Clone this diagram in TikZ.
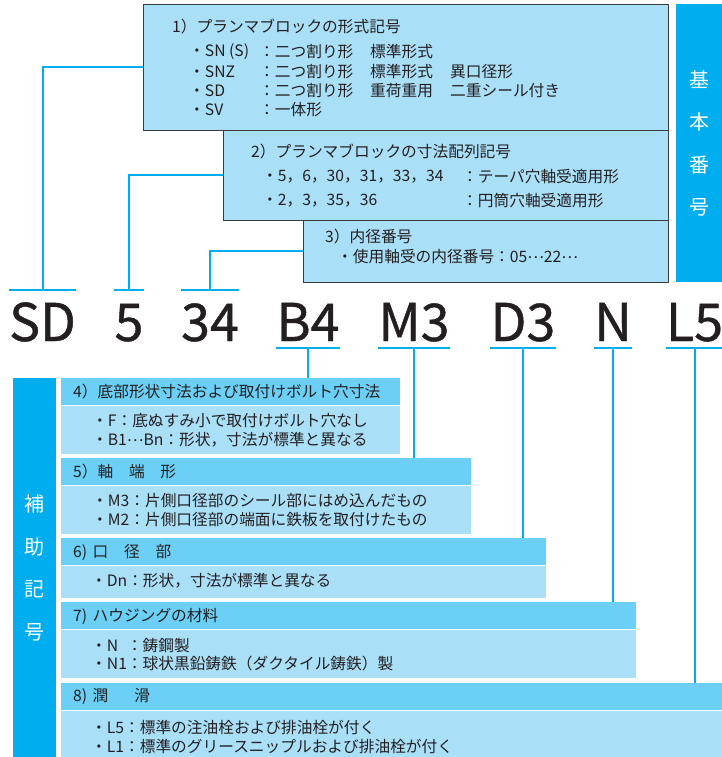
\documentclass[tikz,border=0pt]{standalone}
\usepackage{fontspec}
\setmainfont{Noto Sans CJK JP}
\newfontfamily\codefont{Noto Sans CJK JP}[FakeBold=0.8]
\newcommand\cdotsj{\raisebox{0.3em}{…}}
\definecolor{pale}{HTML}{AADFF8}
\definecolor{head}{HTML}{6CCFF6}
\definecolor{bar}{HTML}{00AEEF}
\definecolor{edge}{HTML}{3C3C3C}
\definecolor{ink}{HTML}{231F20}
\tikzset{
  lead/.style={draw=bar,line width=2pt},
  topbox/.style={draw=edge,line width=1pt,fill=pale,anchor=north west,inner sep=0pt},
  headbox/.style={fill=head,anchor=north west,inner sep=0pt,minimum height=27pt},
  bodybox/.style={fill=pale,anchor=north west,inner sep=0pt},
  sidebar/.style={fill=bar,anchor=north west,inner sep=0pt,text=white,align=center,
    font=\fontsize{20}{42.5}\selectfont},
  code/.style={anchor=base,inner sep=0pt,text height=38pt,text depth=0pt,
    font=\codefont\fontsize{52}{52}\selectfont,text=ink},
  ttl/.style={anchor=west,inner sep=0pt,font=\fontsize{15.7}{16}\selectfont,text=ink},
  txt/.style={anchor=west,inner sep=0pt,font=\fontsize{15.7}{16}\selectfont,text=ink}
}
\begin{document}
\begin{tikzpicture}[x=1pt,y=-1pt]
\useasboundingbox (0,0) rectangle (722,757);
% kihon bangou
\node[topbox,minimum width=525pt,minimum height=126pt] (t1) at (143,4) {};
\node[topbox,minimum width=445pt,minimum height=90pt] (t2) at (223,130) {};
\node[topbox,minimum width=365pt,minimum height=62pt] (t3) at (303,220) {};
\node[sidebar,minimum width=46pt,minimum height=278pt] (kihon) at (676,4) {基\\本\\番\\号};

\node[ttl] (t1a) at (172,27) {1）プランマブロックの形式記号};
\foreach \y/\a/\b/\c/\d [count=\i] in {52/SN (S)/二つ割り形/標準形式/,
    71.5/SNZ/二つ割り形/標準形式/異口径形,
    91/SD/二つ割り形/重荷重用/二重シール付き,
    110/SV/一体形//}{
  \node[txt] (k\i) at (189,\y) {・\a};
  \node[txt] (ka\i) at (259,\y) {：\b};
  \node[txt] (kb\i) at (370,\y) {\c};
  \node[txt] (kc\i) at (450,\y) {\d};
}
\node[ttl] (t2a) at (251,152) {2）プランマブロックの寸法配列記号};
\node[txt] (s1) at (262,177) {・5，6，30，31，33，34};
\node[txt] (sa1) at (462,177) {：テーパ穴軸受適用形};
\node[txt] (s2) at (262,201) {・2，3，35，36};
\node[txt] (sa2) at (462,201) {：円筒穴軸受適用形};
\node[ttl] (t3a) at (325,237) {3）内径番号};
\node[txt] (n1) at (337,257) {・使用軸受の内径番号：05\cdotsj 22\cdotsj};

% kigou
\node[code] (cSD) at (42.5,341) {SD};
\node[code] (c5) at (129,341) {5};
\node[code] (c34) at (210,341) {34};
\node[code] (cB4) at (308,341) {B4};
\node[code] (cM3) at (414,341) {M3};
\node[code] (cD3) at (523,341) {D3};
\node[code] (cN) at (613,341) {N};
\node[code] (cL5) at (694.5,341) {L5};

\foreach \c in {cSD,c5,c34}
  \draw[lead] ([yshift=13pt]\c.north west) -- ([yshift=13pt]\c.north east);
\foreach \c in {cB4,cM3,cD3,cN,cL5}
  \draw[lead] ([yshift=-7pt]\c.south west) -- ([yshift=-7pt]\c.south east);
\draw[lead] (t1.west |- 0,67) -| ([yshift=13pt]cSD.north);
\draw[lead] (t2.west |- 0,175) -| ([yshift=13pt]c5.north);
\draw[lead] (t3.west |- 0,251) -| ([yshift=13pt]c34.north);

% hojo kigou
\node[sidebar,minimum width=43pt,minimum height=379pt] (hojo) at (13,378) {補\\助\\記\\号};
\foreach \n/\t/\w/\h in {4/378/339/48,5/458/410/48,6/538/485/32,7/602/575/48,8/683/661/47}{
  \node[headbox,minimum width=\w pt] (h\n) at (61,\t) {};
  \node[bodybox,minimum width=\w pt,minimum height=\h pt] (d\n) at (h\n.south west) {};
}
\foreach \c/\n in {cB4/4,cM3/5,cD3/6,cN/7,cL5/8}
  \draw[lead] ([yshift=-7pt]\c.south) -- (\c |- h\n.north);

\node[ttl] (h4a) at (73,392) {4）底部形状寸法および取付けボルト穴寸法};
\node[txt] (d4a) at (92,421) {・F：底ぬすみ小で取付けボルト穴なし};
\node[txt] (d4b) at (92,440) {・B1\cdotsj Bn：形状，寸法が標準と異なる};
\node[ttl] (h5a) at (73,472) {5）軸　端　形};
\node[txt] (d5a) at (92,501) {・M3：片側口径部のシール部にはめ込んだもの};
\node[txt] (d5b) at (92,520) {・M2：片側口径部の端面に鉄板を取付けたもの};
\node[ttl] (h6a) at (73,552) {6)\hspace{0.35em}口　径　部};
\node[txt] (d6a) at (91,581) {・Dn：形状，寸法が標準と異なる};
\node[ttl] (h7a) at (73,616) {7)\hspace{0.35em}ハウジングの材料};
\node[txt] (d7a) at (91,646) {・N\phantom{1}：鋳鋼製};
\node[txt] (d7b) at (91,664) {・N1：球状黒鉛鋳鉄（ダクタイル鋳鉄）製};
\node[ttl] (h8a) at (73,697) {8)\hspace{0.35em}潤\hspace{1.65em}滑};
\node[txt] (d8a) at (91,727) {・L5：標準の注油栓および排油栓が付く};
\node[txt] (d8b) at (91,746) {・L1：標準のグリースニップルおよび排油栓が付く};
\end{tikzpicture}
\end{document}
